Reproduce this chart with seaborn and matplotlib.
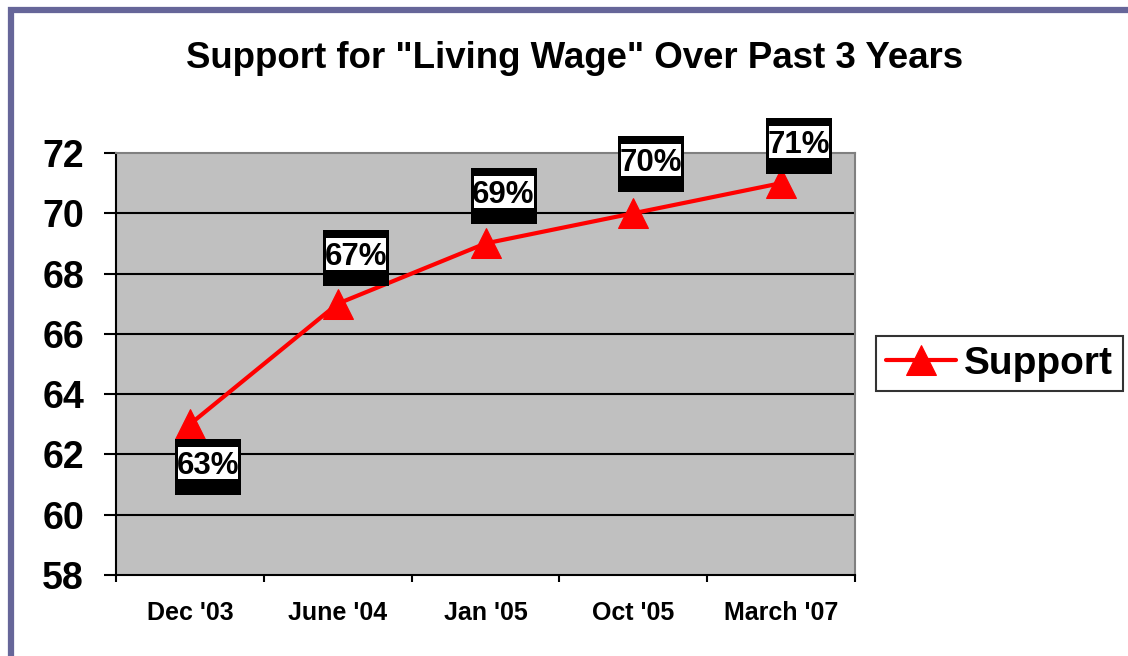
import matplotlib
matplotlib.use("Agg")
import matplotlib.pyplot as plt
import matplotlib.transforms as mtransforms
from matplotlib.patches import Rectangle
import seaborn as sns
import pandas as pd

# ---- data ----
categories = ["Dec '03", "June '04", "Jan '05", "Oct '05", "March '07"]
support = [63, 67, 69, 70, 71]
value_labels = ["63%", "67%", "69%", "70%", "71%"]
y_ticks = [58, 60, 62, 64, 66, 68, 70, 72]
title = 'Support for "Living Wage" Over Past 3 Years'
series_name = "Support"

# label vertical offsets (pixels, text centre relative to point)
label_dy = [-39, 50, 51, 53, 41]

sns.set_theme(style="white")
plt.rcParams['font.family'] = ['Liberation Sans', 'DejaVu Sans']
plt.rcParams['text.color'] = 'black'

W, H = 1128, 656
fig = plt.figure(figsize=(W / 100, H / 100), dpi=100)
fig.patch.set_facecolor('white')

ax = fig.add_axes([116 / W, (H - 575) / H, (855 - 116) / W, (575 - 153) / H])
ax.set_facecolor('#C0C0C0')

df = pd.DataFrame({'period': categories, series_name: support})
df['x'] = range(len(df))

ax.set_xlim(-0.5, len(categories) - 0.5)
ax.set_ylim(y_ticks[0], y_ticks[-1])

# gridlines
for yv in y_ticks[1:-1]:
    ax.axhline(yv, color='black', lw=1.5, zorder=1)

sns.lineplot(data=df, x='x', y=series_name, ax=ax, color='red', lw=3,
             marker='^', markersize=21, markeredgecolor='red',
             label=series_name, zorder=3, sort=False)

ax.set_xlim(-0.5, len(categories) - 0.5)
ax.set_ylim(y_ticks[0], y_ticks[-1])
ax.set_yticks(y_ticks)
ax.set_yticklabels([str(t) for t in y_ticks], fontsize=27, fontweight='bold')
ax.set_xticks(range(len(categories)))
ax.set_xticklabels(categories, fontsize=18, fontweight='bold')
ax.set_xticks([i - 0.5 for i in range(len(categories) + 1)], minor=True)
ax.set_xlabel('')
ax.set_ylabel('')

ax.tick_params(axis='y', which='major', direction='out', length=9, width=1.5,
               color='black', pad=14, left=True, labelcolor='black')
ax.tick_params(axis='x', which='major', length=0, pad=19, labelcolor='black')
ax.tick_params(axis='x', which='minor', direction='out', length=5, width=1.5,
               color='black', bottom=True)

for s in ['left', 'bottom']:
    ax.spines[s].set_color('black')
    ax.spines[s].set_linewidth(1.5)
for s in ['top', 'right']:
    ax.spines[s].set_color('#808080')
    ax.spines[s].set_linewidth(1.5)
    ax.spines[s].set_visible(True)

# data labels
for i, (v, lbl) in enumerate(zip(support, value_labels)):
    dy = label_dy[i]
    tr = mtransforms.ScaledTranslation(i, v, ax.transData)
    outer = Rectangle((18 - 33, dy - 32), 66, 56, transform=tr,
                      facecolor='black', edgecolor='none', zorder=5, clip_on=False)
    inner = Rectangle((18 - 30, dy - 16), 60, 32, transform=tr,
                      facecolor='white', edgecolor='none', zorder=5.5, clip_on=False)
    ax.add_artist(outer)
    ax.add_artist(inner)
    ax.annotate(lbl, xy=(i, v), xytext=(18, dy - 11), textcoords='offset pixels',
                ha='center', va='baseline', fontsize=22.5, fontweight='bold',
                color='black', zorder=6, annotation_clip=False)

# legend
leg = ax.legend(loc='center', bbox_to_anchor=(999.5 / W, 1 - 363.5 / H),
                bbox_transform=fig.transFigure, fontsize=28, frameon=True,
                fancybox=False, edgecolor='black', facecolor='white',
                handlelength=1.8, handletextpad=0.2, borderpad=0.25,
                borderaxespad=0)
leg.get_frame().set_linewidth(1.5)
for t in leg.get_texts():
    t.set_fontweight('bold')
    t.set_color('black')

# title
fig.text(574.5 / W, 1 - 58 / H, title, ha='center', va='center',
         fontsize=26.4, fontweight='bold', color='black')

# purple frame
fig.add_artist(Rectangle((11 / W, -0.2), 1.5, 1 - 10 / H + 0.2,
                         transform=fig.transFigure, fill=False,
                         edgecolor='#666699', lw=4.5, clip_on=False, zorder=0))

fig.savefig('out.png', dpi=100)
